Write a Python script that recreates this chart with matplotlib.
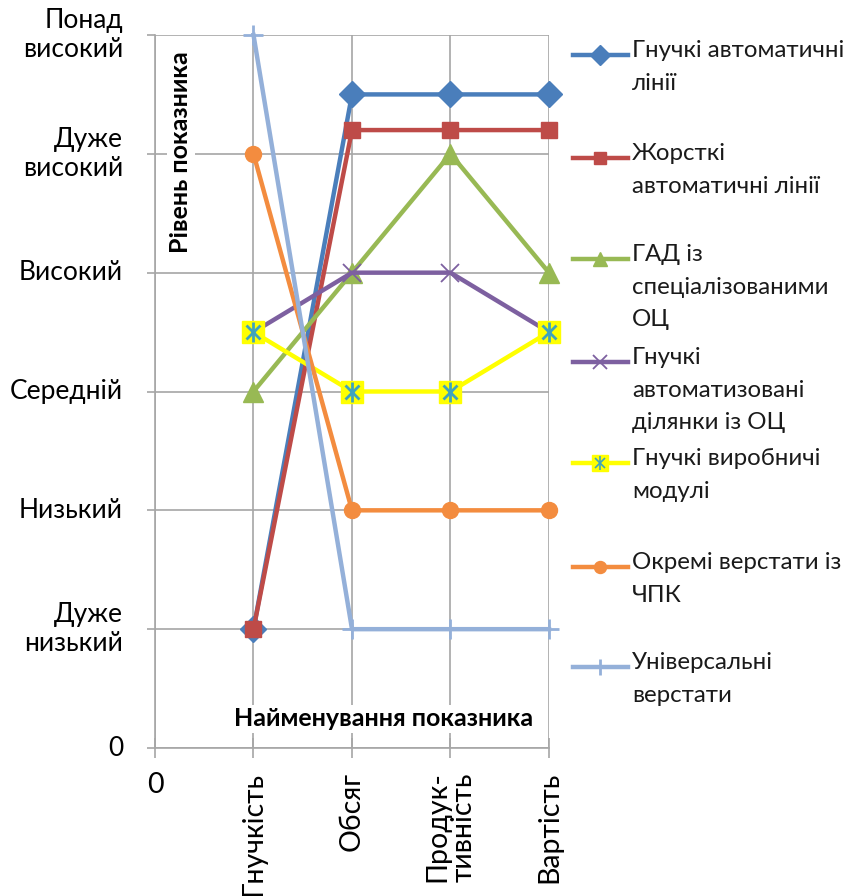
import matplotlib
matplotlib.use("Agg")
import matplotlib.pyplot as plt
from matplotlib.lines import Line2D

plt.rcParams['font.family'] = ['Lato', 'DejaVu Sans']

W, H = 853, 896
DPI = 100

# ---------------- data ----------------
x_labels = ["0", "Гнучкість", "Обсяг", "Продук-\nтивність", "Вартість"]
y_labels = ["0", "Дуже\nнизький", "Низький", "Середній", "Високий",
            "Дуже\nвисокий", "Понад\nвисокий"]
x_pos = [1, 2, 3, 4]

series_names = [
    "Гнучкі автоматичні\nлінії",
    "Жорсткі\nавтоматичні лінії",
    "ГАД із\nспеціалізованими\nОЦ",
    "Гнучкі\nавтоматизовані\nділянки із ОЦ",
    "Гнучкі виробничі\nмодулі",
    "Окремі верстати із\nЧПК",
    "Універсальні\nверстати",
]
gal = [1, 5.5, 5.5, 5.5]
zhal = [1, 5.2, 5.2, 5.2]
gad = [3, 4, 5, 4]
gadoc = [3.5, 4, 4, 3.5]
gvm = [3.5, 3, 3, 3.5]
cnc = [5, 2, 2, 2]
univ = [6, 1, 1, 1]
series_values = [gal, zhal, gad, gadoc, gvm, cnc, univ]

# ---------------- styles ----------------
styles = [
    dict(color="#4A7EBB", marker="D", ms=13.5, mfc="#4A7EBB", mec="#4A7EBB", mew=1),
    dict(color="#BE4B48", marker="s", ms=11, mfc="#BE4B48", mec="#BE4B48", mew=1),
    dict(color="#98B954", marker="^", ms=14, mfc="#98B954", mec="#98B954", mew=1),
    dict(color="#7D60A0", marker="x", ms=13, mfc="#7D60A0", mec="#7D60A0", mew=1.3),
    dict(color="#FFFF00", marker="s", ms=16, mfc="#FFFF00", mec="#FFFF00", mew=1),
    dict(color="#F38C3F", marker="o", ms=11.5, mfc="#F38C3F", mec="#F38C3F", mew=1),
    dict(color="#94B0D9", marker="+", ms=15, mfc="#94B0D9", mec="#94B0D9", mew=2),
]
AST_C = "#3FA3BD"
LW = 3.2
GRID = "#A6A6A6"

fig = plt.figure(figsize=(W / DPI, H / DPI), dpi=DPI)
ax = fig.add_axes([155 / W, 1 - 748 / H, (549 - 155) / W, (748 - 35) / H])
ax.set_xlim(0, 4)
ax.set_ylim(0, 6)

for vals, st in zip(series_values, styles):
    ax.plot(x_pos, vals, lw=LW, clip_on=False, zorder=3, **st)
    if st["color"] == "#FFFF00":
        ax.plot(x_pos, vals, marker="x", ms=10, mec=AST_C, mew=2,
                linestyle="none", clip_on=False, zorder=3.5)
        ax.plot(x_pos, vals, marker="|", ms=14, mec=AST_C, mew=2,
                linestyle="none", clip_on=False, zorder=3.5)

# grid and spines
ax.set_xticks(range(len(x_labels)))
ax.set_yticks(range(len(y_labels)))
ax.grid(True, color=GRID, lw=1.2, zorder=0)
for s in ["top", "right"]:
    ax.spines[s].set_visible(False)
for s in ["left", "bottom"]:
    ax.spines[s].set_color(GRID)
    ax.spines[s].set_linewidth(1.2)

ax.tick_params(axis="x", direction="inout", length=14, width=1.2, color=GRID,
               pad=10, labelsize=20.5)
ax.tick_params(axis="y", direction="out", length=6, width=1.2, color=GRID,
               pad=17, labelsize=19)

ax.set_xticklabels(x_labels)
for i, lab in enumerate(ax.get_xticklabels()):
    if i > 0:
        lab.set_rotation(90)
        lab.set_va("top")
        lab.set_ha("center")
        lab.set_multialignment("left")
        lab.set_linespacing(1.05)
ax.set_yticklabels(y_labels)
for lab in ax.get_yticklabels():
    lab.set_va("center")
    lab.set_multialignment("right")
    lab.set_linespacing(1.22)

# axis titles (inside the plot, white box)
fig.text(181 / W, 1 - 152 / H, "Рівень показника", rotation=90, fontsize=18,
         fontweight="bold", ha="center", va="center",
         bbox=dict(facecolor="white", edgecolor="none", pad=2), zorder=5)
fig.text(384 / W, 1 - 719 / H, "Найменування показника", fontsize=18,
         fontweight="bold", ha="center", va="center",
         bbox=dict(facecolor="white", edgecolor="none", pad=2), zorder=5)

# legend (handle aligned with first text line)
leg_y = [55, 158, 259, 362, 463, 567, 667]
for name, st, yy in zip(series_names, styles, leg_y):
    yf = 1 - yy / H
    fig.add_artist(Line2D([573 / W, 628 / W], [yf, yf], transform=fig.transFigure,
                          color=st["color"], lw=LW))
    kw = {k: v for k, v in st.items() if k != "color"}
    kw["ms"] = kw["ms"] * 0.75
    fig.add_artist(Line2D([600 / W], [yf], transform=fig.transFigure,
                          linestyle="none", **kw))
    if st["color"] == "#FFFF00":
        fig.add_artist(Line2D([600 / W], [yf], transform=fig.transFigure,
                              marker="x", ms=7.5, mec=AST_C, mew=1.2, linestyle="none"))
        fig.add_artist(Line2D([600 / W], [yf], transform=fig.transFigure,
                              marker="|", ms=10.5, mec=AST_C, mew=1.2, linestyle="none"))
    fig.text(632 / W, 1 - (yy - 15) / H, name, fontsize=17.3, ha="left",
             va="top", linespacing=1.68, color="#1a1a1a")

fig.savefig("out.png", dpi=DPI)
